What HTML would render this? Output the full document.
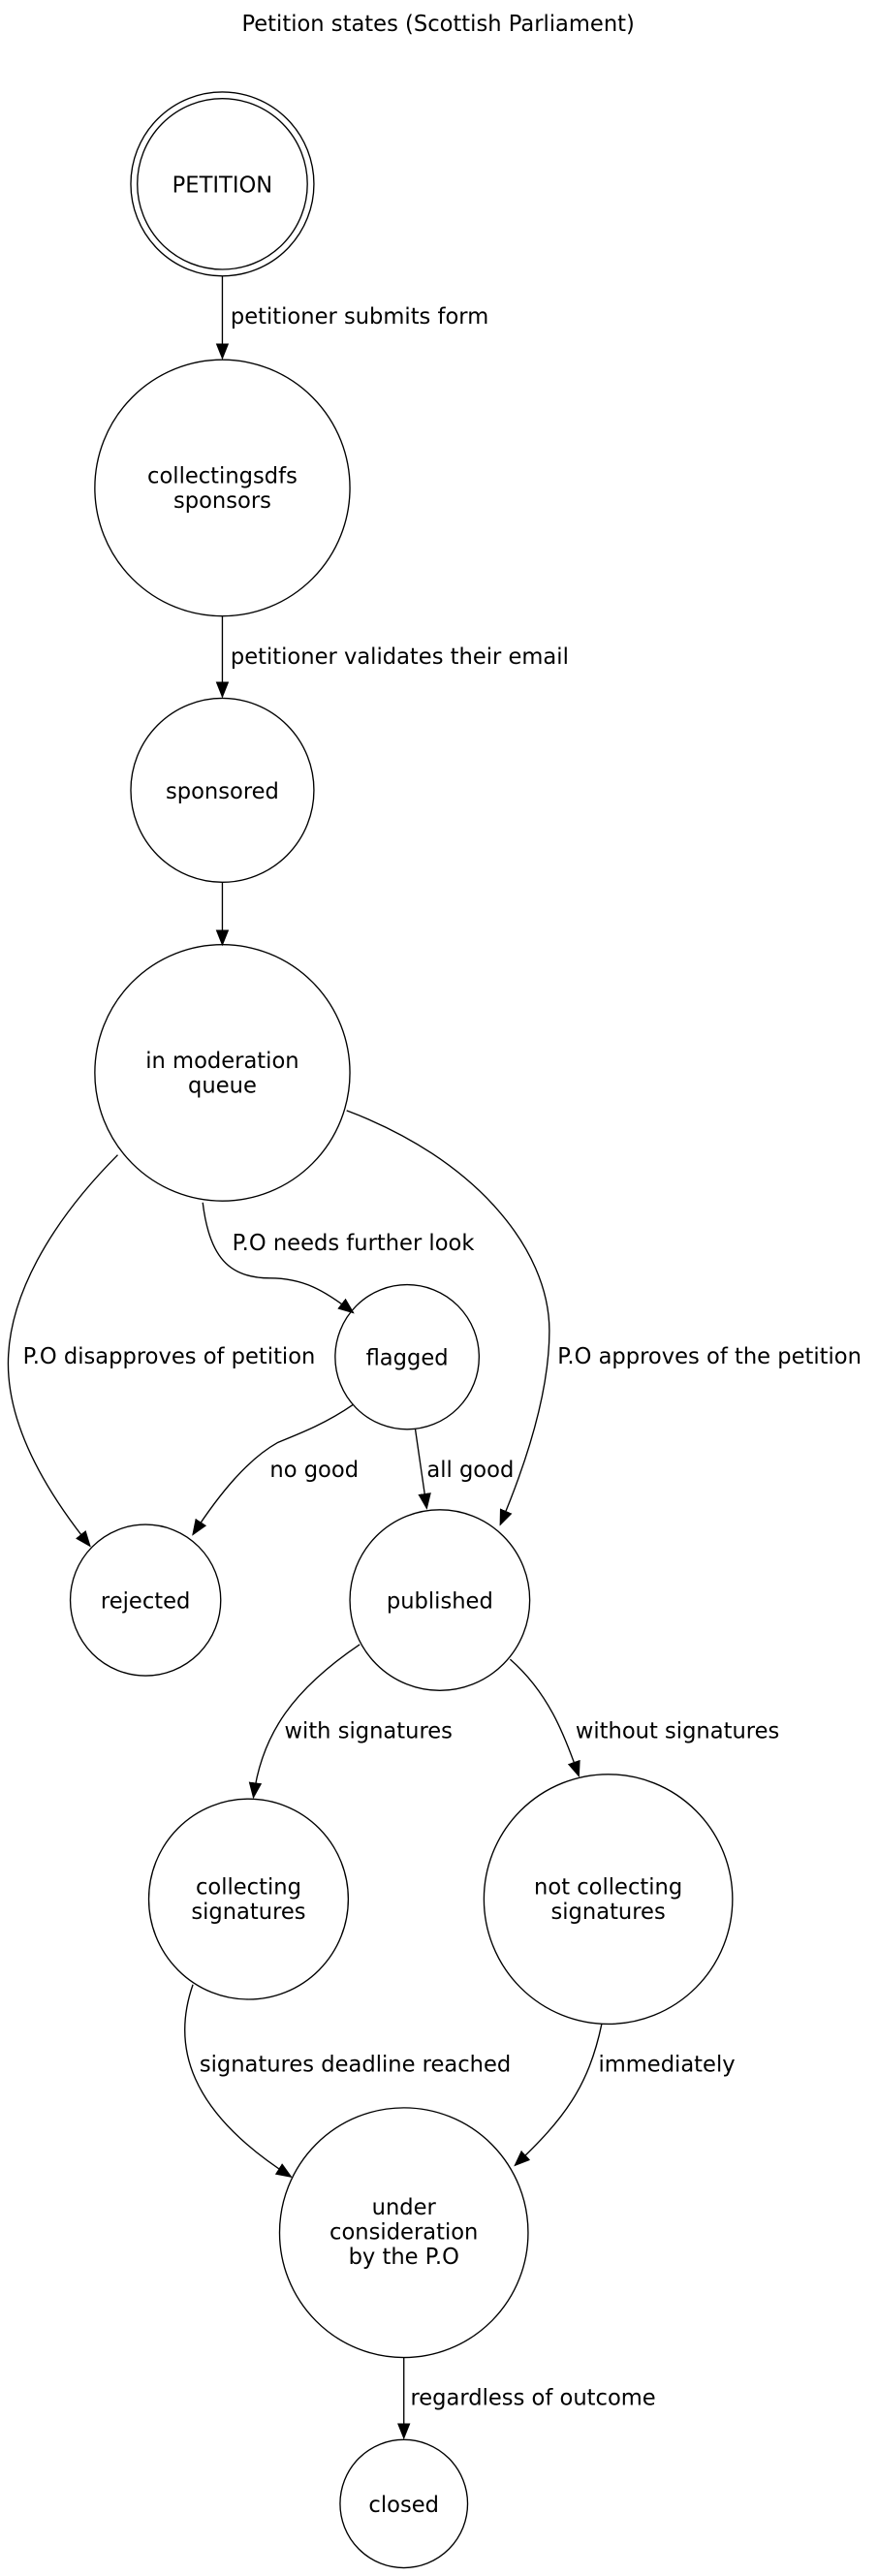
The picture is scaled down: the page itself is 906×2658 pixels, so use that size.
<!DOCTYPE html>
<html><head><meta charset="utf-8"><style>html,body{margin:0;padding:0;background:#fff}svg{display:block}</style></head><body>
<svg width="906" height="2658" viewBox="0 0 537 1568" preserveAspectRatio="none" xmlns="http://www.w3.org/2000/svg" font-family="DejaVu Sans, Liberation Sans, sans-serif" font-size="13.4">
<defs><marker id="a" markerWidth="10" markerHeight="8" refX="9" refY="4" orient="auto" markerUnits="userSpaceOnUse"><path d="M0,0 L10,4 L0,8 z" fill="#000"/></marker></defs>
<rect width="537" height="1568" fill="#fff"/>
<text x="268" y="19" text-anchor="middle">Petition states (Scottish Parliament)</text>
<g fill="none" stroke="#000" stroke-width="0.8">
<circle cx="136" cy="112" r="56"/><circle cx="136" cy="112" r="52"/>
<circle cx="136" cy="297" r="78"/>
<circle cx="136" cy="481" r="56"/>
<circle cx="136" cy="653" r="78"/>
<circle cx="249" cy="826" r="44"/>
<circle cx="89" cy="974" r="46"/>
<circle cx="269" cy="974" r="55"/>
<circle cx="152" cy="1156" r="61"/>
<circle cx="372" cy="1156" r="76"/>
<circle cx="247" cy="1359" r="76"/>
<circle cx="247" cy="1524" r="39"/>
<g marker-end="url(#a)">
<path d="M136,168 L136,218"/>
<path d="M136,375 L136,424"/>
<path d="M136,537 L136,575"/>
<path d="M72,703 C30,745 5,790 5,830 C5,870 30,910 55,941"/>
<path d="M124,732 C128,765 140,778 165,778 C185,778 198,785 216,799"/>
<path d="M212,676 C290,705 336,760 336,810 C336,850 320,895 306,928"/>
<path d="M216,855 C200,866 185,872 170,878 C152,888 135,908 118,934"/>
<path d="M254,870 L261,918"/>
<path d="M220,1001 C180,1028 160,1055 155,1094"/>
<path d="M312,1010 C335,1030 345,1055 354,1081"/>
<path d="M118,1208 C105,1245 115,1285 178,1325"/>
<path d="M368,1232 C360,1270 345,1290 315,1318"/>
<path d="M247,1435 L247,1484"/>
</g></g>
<g text-anchor="middle">
<text x="136" y="117">PETITION</text>
<text x="136" y="294">collectingsdfs</text><text x="136" y="309">sponsors</text>
<text x="136" y="486">sponsored</text>
<text x="136" y="650">in moderation</text><text x="136" y="665">queue</text>
<text x="249" y="831">flagged</text>
<text x="89" y="979">rejected</text>
<text x="269" y="979">published</text>
<text x="152" y="1153">collecting</text><text x="152" y="1168">signatures</text>
<text x="372" y="1153">not collecting</text><text x="372" y="1168">signatures</text>
<text x="247" y="1348">under</text><text x="247" y="1363">consideration</text><text x="247" y="1378">by the P.O</text>
<text x="247" y="1529">closed</text>
</g>
<text x="141" y="197">petitioner submits form</text>
<text x="141" y="404">petitioner validates their email</text>
<text x="142" y="761">P.O needs further look</text>
<text x="14" y="830">P.O disapproves of petition</text>
<text x="341" y="830">P.O approves of the petition</text>
<text x="165" y="899">no good</text>
<text x="261" y="899">all good</text>
<text x="174" y="1058">with signatures</text>
<text x="352" y="1058">without signatures</text>
<text x="122" y="1261">signatures deadline reached</text>
<text x="366" y="1261">immediately</text>
<text x="251" y="1464">regardless of outcome</text>
</svg>
</body></html>
